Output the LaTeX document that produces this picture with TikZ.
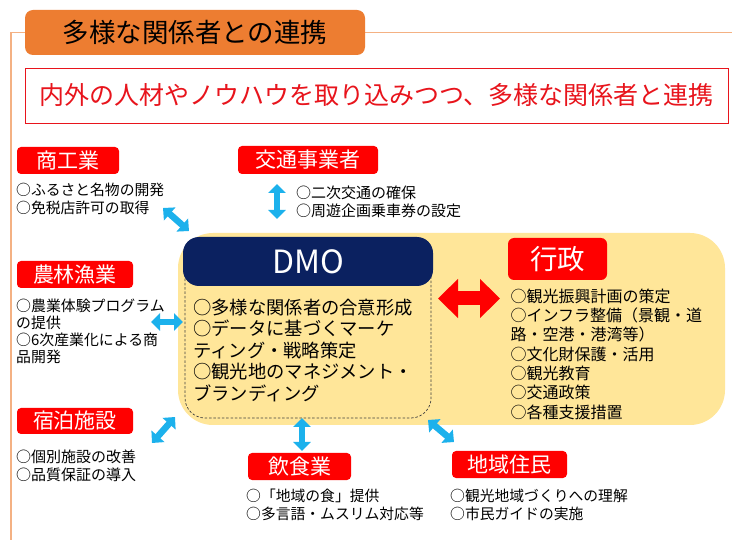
\documentclass[tikz,border=0pt]{standalone}
\usepackage{fontspec}
\setmainfont{Noto Sans CJK JP}
\usetikzlibrary{arrows.meta}
\definecolor{orangeT}{HTML}{ED7D31}
\definecolor{frameO}{HTML}{F4B183}
\definecolor{redB}{HTML}{FF0000}
\definecolor{navyB}{HTML}{0B2160}
\definecolor{yellowB}{HTML}{FFE699}
\definecolor{cyanA}{HTML}{1CB1EC}
\definecolor{subred}{HTML}{E8141C}
\begin{document}
\begin{tikzpicture}[x=1pt,y=-1pt,
  redlabel/.style={fill=redB, rounded corners=4pt, text=white, inner sep=0pt, font=\fontsize{21}{21}\selectfont},
  bullets/.style={anchor=north west, inner sep=0pt, align=left, text=black},
  cyanarrow/.style={draw=cyanA, line width=6.5pt, {Triangle[width=17pt,length=9pt]}-{Triangle[width=17pt,length=9pt]}},
  redarrow/.style={draw=redB, line width=14pt, {Triangle[width=38pt,length=20pt]}-{Triangle[width=38pt,length=20pt]}}
]
\useasboundingbox (0,0) rectangle (732,540);
\fill[white] (0,0) rectangle (732,540);

% frame lines
\coordinate (fb) at (11,540);
\coordinate (fc) at (11,32.5);
\coordinate (fr) at (732,32.5);
\draw[frameO, line width=1.3pt] (fb) -- (fc) -- (fr);

% title
\node[fill=orangeT, rounded corners=8pt, minimum width=340pt, minimum height=45pt, inner sep=0pt,
      font=\fontsize{26.5}{26.5}\selectfont] (title) at (195,32.5) {多様な関係者との連携};

% subtitle
\node[draw=subred, fill=white, line width=0.9pt, minimum width=703pt, minimum height=55pt, inner sep=0pt,
      text=subred, font=\fontsize{25}{25}\selectfont] (sub) at (376.5,95.5)
      {内外の人材やノウハウを取り込みつつ、多様な関係者と連携};

% big yellow area
\node[fill=yellowB, rounded corners=35pt, minimum width=547pt, minimum height=192pt, inner sep=0pt] (area) at (451.5,329) {};

% dashed DMO frame
\draw[dashed, dash pattern=on 2.5pt off 1.8pt, draw=black!75, line width=0.7pt, rounded corners=20pt]
  (185,250) rectangle (431,418);

% DMO header
\node[fill=navyB, rounded corners=16pt, minimum width=250pt, minimum height=49pt, inner sep=0pt,
      text=white, font=\fontsize{32}{32}\selectfont] (dmo) at (308,261.5) {DMO};
\node[bullets, font=\fontsize{18.3}{21.5}\selectfont] (dmotext) at (193,298.6)
  {○多様な関係者の合意形成\\○データに基づくマーケ\\ティング・戦略策定\\○観光地のマネジメント・\\ブランディング};

% gyosei
\node[fill=redB, rounded corners=6pt, minimum width=99pt, minimum height=42pt, inner sep=0pt,
      text=white, font=\fontsize{27.5}{27.5}\selectfont] (gyosei) at (557.5,259) {行政};
\node[bullets, font=\fontsize{16}{19.3}\selectfont] (gyoseitext) at (510.5,288.6)
  {○観光振興計画の策定\\○インフラ整備（景観・道\\路・空港・港湾等）\\○文化財保護・活用\\○観光教育\\○交通政策\\○各種支援措置};

% red arrow
\coordinate (ra1) at (438,298.5);
\coordinate (ra2) at (500,298.5);
\draw[redarrow] (ra1) -- (ra2);

% shokogyo
\node[redlabel, minimum width=102pt, minimum height=27pt] (shoko) at (68,160.5) {商工業};
\node[bullets, font=\fontsize{14.8}{17.7}\selectfont] (shokotext) at (16,183.2)
  {○ふるさと名物の開発\\○免税店許可の取得};

% kotsu
\node[redlabel, minimum width=140pt, minimum height=28pt] (kotsu) at (308,160) {交通事業者};
\node[bullets, font=\fontsize{15}{18}\selectfont] (kotsutext) at (296,186.1)
  {○二次交通の確保\\○周遊企画乗車券の設定};

% norin
\node[redlabel, minimum width=116pt, minimum height=27pt] (norin) at (75,274.5) {農林漁業};
\node[bullets, font=\fontsize{14.9}{17}\selectfont] (norintext) at (16,298.4)
  {○農業体験プログラム\\の提供\\○6次産業化による商\\品開発};

% shukuhaku
\node[redlabel, minimum width=116pt, minimum height=26pt] (shuku) at (75,421) {宿泊施設};
\node[bullets, font=\fontsize{15}{17.6}\selectfont] (shukutext) at (16,449.8)
  {○個別施設の改善\\○品質保証の導入};

% inshoku
\node[redlabel, minimum width=103pt, minimum height=27pt] (inshoku) at (299.5,466.5) {飲食業};
\node[bullets, font=\fontsize{14.8}{17.5}\selectfont] (inshokutext) at (246,489.2)
  {○「地域の食」提供\\○多言語・ムスリム対応等};

% chiiki
\node[redlabel, minimum width=115pt, minimum height=27pt] (chiiki) at (509.5,464.5) {地域住民};
\node[bullets, font=\fontsize{14.8}{17.5}\selectfont] (chiikitext) at (450,489.2)
  {○観光地域づくりへの理解\\○市民ガイドの実施};

% cyan arrows
\coordinate (a1s) at (163,208);   \coordinate (a1e) at (189,231);
\coordinate (a2s) at (277,184);   \coordinate (a2e) at (277,219);
\coordinate (a3s) at (151,322);   \coordinate (a3e) at (183,322);
\coordinate (a4s) at (152,443);   \coordinate (a4e) at (175,417);
\coordinate (a5s) at (302,418);   \coordinate (a5e) at (302,451);
\coordinate (a6s) at (428,420);   \coordinate (a6e) at (454,442);
\draw[cyanarrow] (a1s) -- (a1e);
\draw[cyanarrow] (a2s) -- (a2e);
\draw[cyanarrow] (a3s) -- (a3e);
\draw[cyanarrow] (a4s) -- (a4e);
\draw[cyanarrow] (a5s) -- (a5e);
\draw[cyanarrow] (a6s) -- (a6e);
\end{tikzpicture}
\end{document}
